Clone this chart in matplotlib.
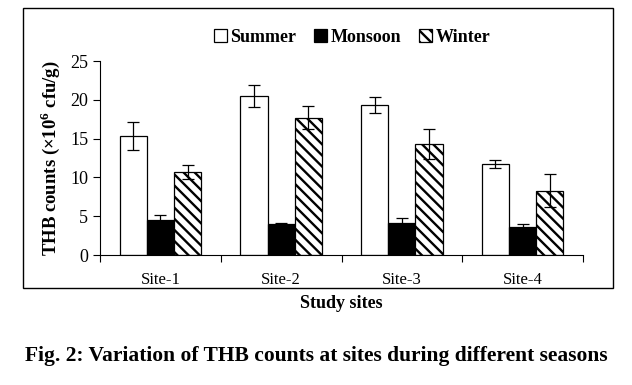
import numpy as np
import matplotlib.pyplot as plt
from matplotlib.patches import Rectangle

plt.rcParams['font.family'] = ['Liberation Serif', 'DejaVu Serif']
plt.rcParams['hatch.linewidth'] = 1.7
plt.rcParams['mathtext.fontset'] = 'custom'
plt.rcParams['mathtext.bf'] = 'Liberation Serif:bold'
plt.rcParams['mathtext.rm'] = 'Liberation Serif'

# data
sites = ['Site-1', 'Site-2', 'Site-3', 'Site-4']
summer = [15.3, 20.5, 19.3, 11.7]
summer_err = [1.8, 1.4, 1.0, 0.5]
monsoon = [4.5, 4.0, 4.1, 3.6]
monsoon_err = [0.6, 0.1, 0.7, 0.35]
winter = [10.7, 17.7, 14.3, 8.3]
winter_err = [0.9, 1.5, 1.9, 2.1]

fig = plt.figure(figsize=(6.32, 3.85), dpi=100)
# outer frame
fig.patches.append(Rectangle((23/632, 1-288/385), 590/632, 280/385, transform=fig.transFigure,
                             fill=False, edgecolor='black', linewidth=1.0))
ax = fig.add_axes([100/632, 1-255/385, 483/632, 194/385])

x = np.arange(len(sites))
w = 0.225
ek = dict(ecolor='black', elinewidth=0.9, capsize=4, capthick=0.9)
ax.bar(x - w, summer, w, yerr=summer_err, color='white', edgecolor='black', linewidth=0.9,
       label='Summer', error_kw=ek)
ax.bar(x, monsoon, w, yerr=monsoon_err, color='black', edgecolor='black', linewidth=0.9,
       label='Monsoon', error_kw=ek)
ax.bar(x + w, winter, w, yerr=winter_err, color='white', edgecolor='black', linewidth=0.9,
       hatch='\\\\\\', label='Winter', error_kw=ek)

ax.set_xlim(-0.5, 3.5)
ax.set_ylim(0, 25)
ax.set_yticks([0, 5, 10, 15, 20, 25])
ax.set_xticks(x)
ax.set_xticklabels(sites, fontsize=12)
ax.tick_params(axis='x', length=0, pad=12)
ax.set_xticks(np.arange(-0.5, 4, 1), minor=True)
ax.tick_params(axis='x', which='minor', length=5, width=0.8, direction='out')
ax.tick_params(axis='y', labelsize=13, length=5, width=0.8, direction='out')
for s in ['top', 'right']:
    ax.spines[s].set_visible(False)
for s in ['left', 'bottom']:
    ax.spines[s].set_linewidth(0.8)

ax.set_ylabel('THB counts (×10$^{\\mathbf{6}}$ cfu/g)', fontsize=13.5, fontweight='bold', labelpad=6)
ax.set_xlabel('Study sites', fontsize=13, fontweight='bold', labelpad=5)

leg = fig.legend(loc='center', bbox_to_anchor=(352/632, 1-37/385), ncol=3, frameon=False,
                 prop={'weight': 'bold', 'size': 13}, handlelength=0.7, handleheight=0.7,
                 handletextpad=0.2, columnspacing=1.0)

fig.text(0.5, 1-356/385, 'Fig. 2: Variation of THB counts at sites during different seasons',
         ha='center', va='center', fontsize=15.5, fontweight='bold')

fig.savefig('out.png', dpi=100)
